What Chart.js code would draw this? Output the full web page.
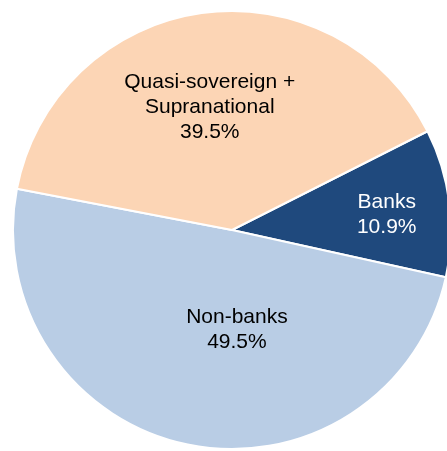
<!DOCTYPE html>
<html>
<head>
<meta charset="utf-8">
<script src="https://cdn.jsdelivr.net/npm/chart.js@4.4.0/dist/chart.umd.min.js"></script>
<style>
  html, body { margin:0; padding:0; background:#fff; overflow:hidden; width:447px; height:451px; }
  #pie { position:absolute; left:0; top:0; }
</style>
</head>
<body>
<canvas id="pie" width="464" height="460"></canvas>
<script>
// Data
const categories = ['Banks', 'Non-banks', 'Quasi-sovereign + Supranational'];
const labelLines = [['Banks'], ['Non-banks'], ['Quasi-sovereign +', 'Supranational']];
const shares = [10.9, 49.5, 39.5];
const colors = ['#1F497D', '#B9CDE5', '#FCD5B5'];
const textColors = ['#ffffff', '#000000', '#000000'];

// label placement: fraction of radius, angle shift in degrees from the slice middle
const labelPlace = [
  { frac:0.71, shift:1.4 },
  { frac:0.455, shift:-14.5 },
  { frac:0.57, shift:-2.3 }
];

const pieLabels = {
  id:'pieLabels',
  afterDatasetsDraw(chart){
    const ctx = chart.ctx;
    const meta = chart.getDatasetMeta(0);
    ctx.save();
    ctx.font = '21px "Liberation Sans", Arial, sans-serif';
    ctx.textAlign = 'center';
    ctx.textBaseline = 'middle';
    meta.data.forEach((arc, i)=>{
      const p = arc.getProps(['x','y','startAngle','endAngle','outerRadius'], true);
      const a = (p.startAngle + p.endAngle)/2 + labelPlace[i].shift*Math.PI/180;
      const r = p.outerRadius*labelPlace[i].frac;
      const cx = p.x + Math.cos(a)*r, cy = p.y + Math.sin(a)*r;
      const lines = labelLines[i].concat([shares[i].toFixed(1)+'%']);
      const lh = 25;
      ctx.fillStyle = textColors[i];
      lines.forEach((t, j)=>{
        ctx.fillText(t, cx, cy + (j-(lines.length-1)/2)*lh);
      });
    });
    ctx.restore();
  }
};

new Chart(document.getElementById('pie').getContext('2d'), {
  type:'pie',
  data:{ labels: categories, datasets:[{ data: shares, backgroundColor: colors, borderColor:'#ffffff', borderWidth:2 }]},
  options:{
    responsive:false,
    animation:false,
    devicePixelRatio:1,
    rotation:63.2,
    layout:{ padding:10 },
    plugins:{ legend:{ display:false }, tooltip:{ enabled:false } }
  },
  plugins:[pieLabels]
});
</script>
</body>
</html>
